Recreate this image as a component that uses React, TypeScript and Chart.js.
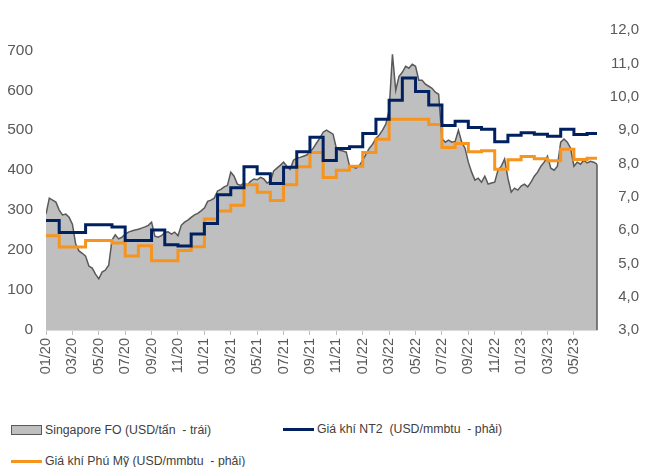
import React, { useEffect, useRef } from "react";
import { Chart, registerables } from "chart.js";

Chart.register(...registerables);

// X-axis tick labels (every 2 months, starting 01/2020)
const tickLabels = [
  "01/20", "03/20", "05/20", "07/20", "09/20", "11/20",
  "01/21", "03/21", "05/21", "07/21", "09/21", "11/21",
  "01/22", "03/22", "05/22", "07/22", "09/22", "11/22",
  "01/23", "03/23", "05/23",
];

// Singapore FO (USD/tấn) – weekly readings from 01/2020 (4 per month)
const foWeekly = [
  290, 330, 325, 320, 300, 288, 290, 282, 265, 215, 198, 192,
  185, 160, 155, 140, 128, 145, 150, 162, 225, 238, 228, 232,
  240, 245, 248, 250, 252, 255, 258, 262, 270, 235, 232, 236,
  244, 246, 240, 245, 236, 262, 270, 275, 282, 288, 292, 298,
  305, 322, 325, 330, 348, 352, 358, 362, 395, 385, 365, 362,
  368, 362, 372, 378, 376, 382, 378, 368, 372, 398, 405, 412,
  420, 410, 402, 425, 430, 432, 435, 438, 445, 455, 468, 480,
  495, 500, 495, 490, 455, 450, 448, 445, 410, 408, 405, 412,
  425, 440, 455, 465, 480, 488, 500, 515, 550, 690, 600, 635,
  645, 660, 655, 665, 660, 625, 625, 615, 610, 605, 595, 590,
  480, 470, 475, 470, 472, 500, 470, 455, 420, 395, 375, 380,
  370, 385, 365, 368, 370, 400, 410, 428, 380, 345, 355, 350,
  360, 365, 358, 370, 385, 395, 410, 420, 435, 405, 400, 410,
  470, 478, 470, 455, 410, 420, 415, 425, 418, 422, 420, 415,
];

// Giá khí NT2 (USD/mmbtu) – monthly, 01/2020 .. 06/2023
const nt2Monthly = [
  6.29, 5.93, 5.93, 6.16, 6.16, 6.09, 5.69, 5.69, 6.0, 5.56, 5.52, 5.88,
  6.2, 7.06, 7.27, 7.9, 7.69, 7.4, 7.89, 8.35, 8.79, 8.09, 8.45, 8.5,
  8.9, 9.33, 9.9, 10.57, 10.16, 9.76, 9.14, 9.27, 9.08, 9.03, 8.65, 8.85,
  8.92, 8.88, 8.82, 9.03, 8.87, 8.9,
];

// Giá khí Phú Mỹ (USD/mmbtu) – monthly, 01/2020 .. 06/2023
const phuMyMonthly = [
  5.83, 5.49, 5.49, 5.69, 5.69, 5.61, 5.22, 5.53, 5.08, 5.08, 5.39, 5.5,
  6.33, 6.57, 6.75, 7.36, 7.14, 6.89, 7.36, 7.9, 8.33, 7.58, 7.8, 7.92,
  8.33, 8.73, 9.33, 9.33, 9.33, 9.17, 8.48, 8.6, 8.35, 8.38, 7.83, 8.11,
  8.21, 8.14, 8.08, 8.43, 8.12, 8.16,
];

const X_MAX = (foWeekly.length - 1) / 4;

const legendFont = '12.3px "Liberation Sans", Arial, sans-serif';

export default function App() {
  const canvasRef = useRef<HTMLCanvasElement | null>(null);

  useEffect(() => {
    const canvas = canvasRef.current;
    if (!canvas) return;

    const foData = foWeekly.map((v, i) => ({ x: i / 4, y: v }));
    const stepData = (arr: number[]) => [
      ...arr.map((v, i) => ({ x: i, y: v })),
      { x: X_MAX, y: arr[arr.length - 1] },
    ];

    const foEdge = {
      id: "foEdge",
      afterDatasetsDraw(chart: any) {
        const meta = chart.getDatasetMeta(0);
        const pts = meta.data;
        if (!pts || !pts.length) return;
        const last = pts[pts.length - 1];
        const y0 = chart.scales.yL.getPixelForValue(0);
        const ctx = chart.ctx;
        ctx.save();
        ctx.strokeStyle = "#595959";
        ctx.lineWidth = 1.5;
        ctx.beginPath();
        ctx.moveTo(last.x, last.y);
        ctx.lineTo(last.x, y0);
        ctx.stroke();
        ctx.restore();
      },
    };

    const chart = new Chart(canvas, {
      type: "line",
      data: {
        datasets: [
          {
            label: "Singapore FO (USD/tấn  - trái)",
            data: foData,
            yAxisID: "yL",
            borderColor: "#595959",
            borderWidth: 1.5,
            backgroundColor: "#bfbfbf",
            fill: "origin",
            pointRadius: 0,
            tension: 0,
            order: 10,
          },
          {
            label: "Giá khí NT2  (USD/mmbtu  - phải)",
            data: stepData(nt2Monthly),
            yAxisID: "yR",
            borderColor: "#002060",
            borderWidth: 3,
            fill: false,
            pointRadius: 0,
            stepped: true,
            order: 1,
          },
          {
            label: "Giá khí Phú Mỹ (USD/mmbtu  - phải)",
            data: stepData(phuMyMonthly),
            yAxisID: "yR",
            borderColor: "#F7941D",
            borderWidth: 3,
            fill: false,
            pointRadius: 0,
            stepped: true,
            order: 2,
          },
        ],
      },
      options: {
        animation: false,
        responsive: false,
        parsing: true,
        layout: { padding: { top: 7, left: 0, right: 0, bottom: 0 } },
        plugins: {
          legend: { display: false },
          tooltip: { enabled: false },
        },
        scales: {
          x: {
            type: "linear",
            min: 0,
            max: X_MAX,
            afterBuildTicks: (scale: any) => {
              scale.ticks = tickLabels.map((_, i) => ({ value: i * 2 }));
            },
            afterFit: (scale: any) => {
              scale.height = 78;
            },
            grid: {
              drawOnChartArea: false,
              drawTicks: true,
              tickLength: 5,
              color: "#bfbfbf",
            },
            border: { display: true, color: "#d9d9d9", width: 1 },
            ticks: {
              autoSkip: false,
              minRotation: 90,
              maxRotation: 90,
              padding: 3,
              color: "#595959",
              font: { family: '"Liberation Sans", Arial, sans-serif', size: 14.5 },
              callback: (_v: any, i: number) => tickLabels[i],
            },
          },
          yL: {
            type: "linear",
            position: "left",
            min: 0,
            max: 750,
            afterFit: (scale: any) => {
              scale.width = 38;
            },
            grid: { display: false, drawTicks: false },
            border: { display: false },
            ticks: {
              stepSize: 100,
              padding: 13,
              color: "#595959",
              font: { family: '"Liberation Sans", Arial, sans-serif', size: 15.5 },
              callback: (v: any) => (Number(v) % 100 === 0 ? String(v) : ""),
            },
          },
          yR: {
            type: "linear",
            position: "right",
            min: 3,
            max: 12,
            afterFit: (scale: any) => {
              scale.width = 42;
            },
            grid: { display: false, drawTicks: false },
            border: { display: false },
            ticks: {
              stepSize: 1,
              padding: 10,
              crossAlign: "far",
              color: "#595959",
              font: { family: '"Liberation Sans", Arial, sans-serif', size: 15 },
              callback: (v: any) => Number(v).toFixed(1).replace(".", ","),
            },
          },
        },
      } as any,
      plugins: [foEdge],
    });

    return () => {
      chart.destroy();
    };
  }, []);

  const textStyle: React.CSSProperties = {
    font: legendFont,
    color: "#404040",
    whiteSpace: "pre",
    marginLeft: 3,
  };
  const itemStyle = (left: number, top: number): React.CSSProperties => ({
    position: "absolute",
    left,
    top,
    height: 20,
    display: "flex",
    alignItems: "center",
  });

  return (
    <div style={{ position: "relative", width: 631, height: 459 }}>
      <canvas ref={canvasRef} width={631} height={400} style={{ display: "block" }} />
      <div style={itemStyle(3, 412)}>
        <div
          style={{
            width: 31,
            height: 10,
            boxSizing: "border-box",
            background: "#bfbfbf",
            border: "1.5px solid #595959",
          }}
        />
        <span style={textStyle}>Singapore FO (USD/tấn  - trái)</span>
      </div>
      <div style={itemStyle(275, 411)}>
        <div style={{ width: 31, height: 3, background: "#002060" }} />
        <span style={textStyle}>Giá khí NT2  (USD/mmbtu  - phải)</span>
      </div>
      <div style={itemStyle(3, 443)}>
        <div style={{ width: 31, height: 3, background: "#F7941D" }} />
        <span style={textStyle}>Giá khí Phú Mỹ (USD/mmbtu  - phải)</span>
      </div>
    </div>
  );
}
